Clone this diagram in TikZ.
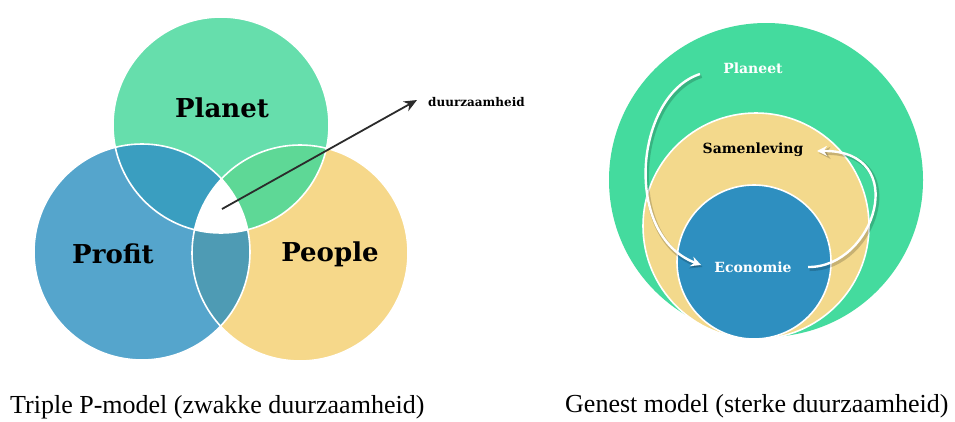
\documentclass[tikz,border=0pt]{standalone}
\usepackage{fontspec}
\usetikzlibrary{arrows.meta}
\newfontfamily\lblfont{DejaVu Serif}
\newfontfamily\capfont{Liberation Serif}
\definecolor{cPlanet}{HTML}{66DEAC}
\definecolor{cProfit}{HTML}{55A5CC}
\definecolor{cPeople}{HTML}{F6D88A}
\definecolor{cPlPr}{HTML}{3A9EC0}
\definecolor{cPlPe}{HTML}{5ED896}
\definecolor{cPrPe}{HTML}{4E9BB4}
\definecolor{cOuter}{HTML}{44DB9E}
\definecolor{cMid}{HTML}{F3D98C}
\definecolor{cInner}{HTML}{2E8FC0}
\definecolor{cArrow}{HTML}{2B2B2B}
\tikzset{
  biglbl/.style={font=\lblfont\bfseries\fontsize{26}{30}\selectfont, text=black, inner sep=0pt},
  smalllbl/.style={font=\lblfont\bfseries\fontsize{14}{16}\selectfont, inner sep=0pt},
  caption/.style={font=\capfont\fontsize{26}{30}\selectfont, text=black, inner sep=0pt, anchor=base west},
  whitearrow/.style={draw=white, line width=2.4pt, -{Stealth[length=10pt,width=10pt]}},
  shadowarrow/.style={draw=black, opacity=0.18, line width=4pt, -{Stealth[length=12pt,width=12pt]}},
  outline/.style={draw=white, line width=1.6pt}
}
\begin{document}
\begin{tikzpicture}[x=1pt,y=-1pt]
\useasboundingbox[fill=white] (0,0) rectangle (955,421);
% ---------- Triple P ----------
\def\R{108pt}
\coordinate (plC) at (221,125);
\coordinate (prC) at (142,252);
\coordinate (peC) at (300,253);
\fill[cPlanet] (plC) circle (\R);
\fill[cProfit] (prC) circle (\R);
\fill[cPeople] (peC) circle (\R);
\begin{scope}\clip (plC) circle (\R); \fill[cPlPr] (prC) circle (\R);\end{scope}
\begin{scope}\clip (plC) circle (\R); \fill[cPlPe] (peC) circle (\R);\end{scope}
\begin{scope}\clip (prC) circle (\R); \fill[cPrPe] (peC) circle (\R);\end{scope}
\begin{scope}\clip (plC) circle (\R); \clip (prC) circle (\R); \fill[white] (peC) circle (\R);\end{scope}
\draw[outline] (plC) circle (\R);
\draw[outline] (prC) circle (\R);
\draw[outline] (peC) circle (\R);
\node[biglbl] (planet) at (222,108) {Planet};
\node[biglbl] (profit) at (113,254) {Profit};
\node[biglbl] (people) at (330,254) {People};
\coordinate (core) at (222,209);
\node[font=\lblfont\bfseries\fontsize{12}{14}\selectfont, anchor=west, inner sep=0pt] (duur) at (428,102) {duurzaamheid};
\draw[cArrow, line width=1.8pt, -{Stealth[length=13pt,width=11pt]}] (core) -- (417,100);
% ---------- Genest model ----------
\coordinate (oC) at (766,180);
\coordinate (mC) at (756,226);
\coordinate (iC) at (754,262);
\fill[cOuter] (oC) circle (157pt);
\fill[cMid] (mC) circle (113pt);
\draw[outline] (mC) circle (113pt);
\fill[cInner] (iC) circle (77pt);
\draw[outline] (iC) circle (77pt);
\node[smalllbl, text=white] (planeet) at (753,68) {Planeet};
\node[smalllbl, text=black] (samen) at (753,150) {Samenleving};
\node[smalllbl, text=white] (eco) at (753,267) {Economie};
\coordinate (a1s) at (700,74);
\coordinate (a1e) at (701,265);
\coordinate (a2s) at (808,267);
\coordinate (a2e) at (817,151);
\draw[shadowarrow, transform canvas={shift={(1.5pt,-2pt)}}] (a1s) .. controls (635,95) and (622,235) .. (a1e);
\draw[shadowarrow, transform canvas={shift={(1.5pt,-2pt)}}] (a2s) .. controls (875,268) and (912,150) .. (a2e);
\draw[whitearrow] (a1s) .. controls (635,95) and (622,235) .. (a1e);
\draw[whitearrow] (a2s) .. controls (875,268) and (912,150) .. (a2e);
% ---------- captions ----------
\node[caption] (cap1) at (10,413) {Triple P-model (zwakke duurzaamheid)};
\node[caption] (cap2) at (565,412) {Genest model (sterke duurzaamheid)};
\end{tikzpicture}
\end{document}
